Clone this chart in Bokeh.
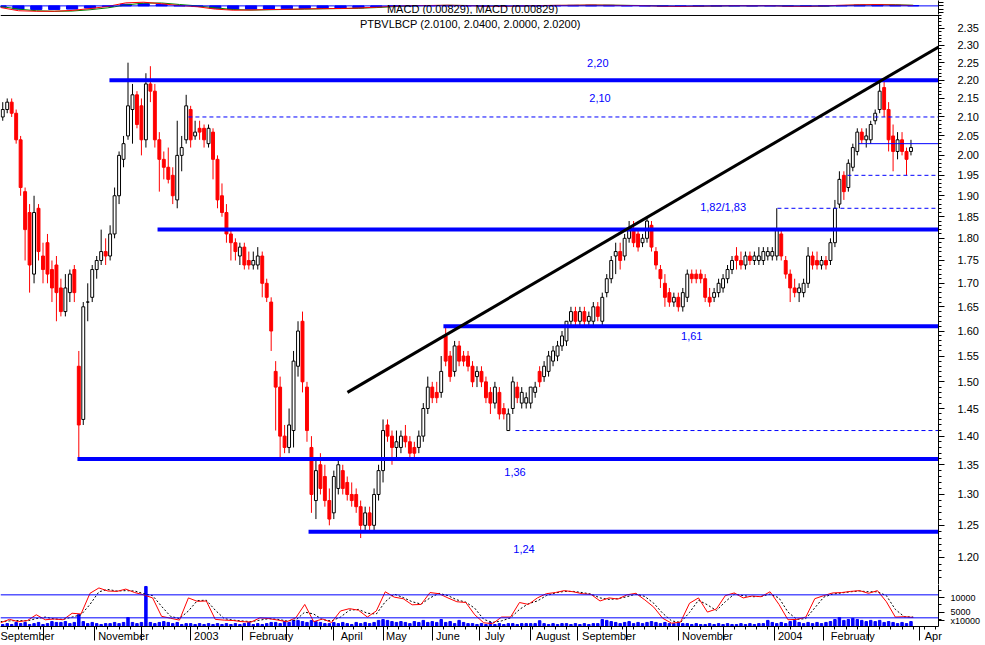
import numpy as np
import pandas as pd
from bokeh.plotting import figure
from bokeh.layouts import column
from bokeh.models import (Range1d, FixedTicker, PrintfTickFormatter, LinearAxis,
                          Span, Label, ColumnDataSource)
from bokeh.embed import file_html
from bokeh.resources import INLINE

# ---------------- data (2-trading-day candles, PTBVLBCP, Sep 2002 - Mar 2004) -------------
open_ = [2.10, 2.12, 2.14, 2.11, 2.04, 1.91, 1.86, 1.72, 1.87, 1.76,
         1.79, 1.73, 1.74, 1.69, 1.64, 1.68, 1.73, 1.53, 1.43, 1.66,
         1.67, 1.73, 1.75, 1.77, 1.76, 1.81, 1.90, 1.99, 2.05, 2.12,
         2.16, 2.13, 2.04, 2.19, 2.17, 2.04, 1.99, 1.97, 1.95, 1.89,
         2.00, 2.04, 2.12, 2.05, 2.07, 2.07, 2.03, 2.06, 1.99, 1.90,
         1.86, 1.81, 1.79, 1.76, 1.78, 1.75, 1.74, 1.74, 1.76, 1.70,
         1.66, 1.52, 1.49, 1.40, 1.38, 1.41, 1.53, 1.62, 1.49, 1.38,
         1.29, 1.35, 1.33, 1.29, 1.27, 1.31, 1.34, 1.32, 1.30, 1.30,
         1.28, 1.25, 1.27, 1.25, 1.30, 1.34, 1.42, 1.40, 1.38, 1.38,
         1.40, 1.39, 1.38, 1.38, 1.40, 1.45, 1.49, 1.48, 1.48, 1.59,
         1.55, 1.52, 1.57, 1.55, 1.55, 1.53, 1.51, 1.52, 1.50, 1.48,
         1.46, 1.48, 1.45, 1.41, 1.45, 1.49, 1.46, 1.46, 1.46, 1.48,
         1.52, 1.51, 1.52, 1.54, 1.55, 1.57, 1.58, 1.62, 1.64, 1.62,
         1.64, 1.62, 1.62, 1.65, 1.62, 1.68, 1.71, 1.76, 1.77, 1.76,
         1.80, 1.82, 1.81, 1.79, 1.80, 1.83, 1.77, 1.73, 1.70, 1.68,
         1.66, 1.67, 1.65, 1.67, 1.72, 1.72, 1.72, 1.71, 1.67, 1.67,
         1.68, 1.69, 1.71, 1.73, 1.76, 1.75, 1.74, 1.76, 1.75, 1.75,
         1.75, 1.76, 1.76, 1.76, 1.81, 1.75, 1.72, 1.69, 1.68, 1.68,
         1.70, 1.76, 1.75, 1.74, 1.75, 1.75, 1.79, 1.88, 1.95, 1.92,
         1.97, 2.01, 2.06, 2.04, 2.04, 2.09, 2.12, 2.18, 2.12, 2.05,
         2.01, 2.04, 2.01, 2.01]
high = [2.14, 2.15, 2.15, 2.12, 2.05, 1.92, 1.88, 1.90, 1.88, 1.79,
        1.81, 1.75, 1.76, 1.71, 1.72, 1.73, 1.74, 1.56, 1.66, 1.70,
        1.74, 1.76, 1.82, 1.80, 1.83, 1.92, 2.01, 2.05, 2.25, 2.19,
        2.17, 2.15, 2.22, 2.24, 2.19, 2.06, 2.01, 2.02, 1.97, 2.09,
        2.05, 2.16, 2.13, 2.09, 2.09, 2.08, 2.08, 2.07, 2.00, 1.93,
        1.88, 1.82, 1.80, 1.79, 1.79, 1.77, 1.77, 1.78, 1.77, 1.71,
        1.67, 1.54, 1.51, 1.42, 1.45, 1.56, 1.62, 1.64, 1.50, 1.40,
        1.36, 1.37, 1.35, 1.31, 1.34, 1.36, 1.35, 1.33, 1.32, 1.31,
        1.29, 1.28, 1.28, 1.31, 1.35, 1.43, 1.43, 1.41, 1.41, 1.41,
        1.42, 1.40, 1.39, 1.41, 1.46, 1.51, 1.50, 1.50, 1.55, 1.61,
        1.56, 1.58, 1.58, 1.56, 1.56, 1.54, 1.53, 1.53, 1.51, 1.49,
        1.50, 1.49, 1.46, 1.45, 1.51, 1.50, 1.49, 1.48, 1.49, 1.50,
        1.53, 1.54, 1.56, 1.57, 1.58, 1.60, 1.62, 1.65, 1.65, 1.65,
        1.65, 1.64, 1.66, 1.66, 1.68, 1.72, 1.76, 1.79, 1.79, 1.81,
        1.84, 1.84, 1.82, 1.81, 1.85, 1.84, 1.78, 1.74, 1.72, 1.69,
        1.68, 1.68, 1.69, 1.73, 1.73, 1.73, 1.73, 1.72, 1.69, 1.69,
        1.71, 1.72, 1.74, 1.76, 1.78, 1.77, 1.77, 1.77, 1.77, 1.78,
        1.78, 1.78, 1.78, 1.87, 1.82, 1.76, 1.73, 1.71, 1.70, 1.71,
        1.78, 1.77, 1.77, 1.76, 1.76, 1.80, 1.89, 1.96, 1.96, 1.99,
        2.03, 2.07, 2.07, 2.07, 2.09, 2.12, 2.20, 2.20, 2.14, 2.08,
        2.06, 2.06, 2.02, 2.04]
low = [2.09, 2.11, 2.10, 2.03, 1.90, 1.75, 1.68, 1.70, 1.75, 1.70,
       1.70, 1.66, 1.62, 1.63, 1.63, 1.66, 1.66, 1.36, 1.42, 1.62,
       1.66, 1.71, 1.74, 1.74, 1.75, 1.80, 1.88, 1.97, 2.04, 2.03,
       2.07, 2.00, 2.02, 2.14, 2.02, 1.91, 1.94, 1.93, 1.88, 1.87,
       1.96, 2.03, 2.02, 2.04, 2.04, 2.02, 2.02, 1.94, 1.87, 1.85,
       1.79, 1.75, 1.75, 1.74, 1.73, 1.73, 1.73, 1.73, 1.67, 1.66,
       1.56, 1.41, 1.36, 1.37, 1.37, 1.38, 1.51, 1.48, 1.39, 1.27,
       1.26, 1.30, 1.28, 1.25, 1.26, 1.30, 1.30, 1.29, 1.28, 1.27,
       1.23, 1.24, 1.24, 1.24, 1.29, 1.32, 1.39, 1.35, 1.36, 1.37,
       1.38, 1.36, 1.36, 1.37, 1.39, 1.44, 1.46, 1.46, 1.47, 1.53,
       1.50, 1.51, 1.53, 1.53, 1.52, 1.49, 1.49, 1.49, 1.46, 1.44,
       1.45, 1.43, 1.43, 1.41, 1.44, 1.46, 1.45, 1.45, 1.45, 1.47,
       1.49, 1.50, 1.51, 1.53, 1.54, 1.56, 1.57, 1.61, 1.61, 1.61,
       1.61, 1.61, 1.61, 1.62, 1.61, 1.67, 1.70, 1.72, 1.73, 1.75,
       1.79, 1.78, 1.77, 1.78, 1.79, 1.77, 1.73, 1.69, 1.65, 1.65,
       1.65, 1.64, 1.64, 1.66, 1.70, 1.70, 1.70, 1.66, 1.65, 1.66,
       1.67, 1.68, 1.70, 1.72, 1.73, 1.73, 1.73, 1.74, 1.74, 1.74,
       1.74, 1.75, 1.75, 1.75, 1.75, 1.71, 1.66, 1.67, 1.66, 1.67,
       1.69, 1.73, 1.73, 1.73, 1.73, 1.74, 1.78, 1.87, 1.89, 1.91,
       1.96, 2.00, 2.03, 2.02, 2.03, 2.08, 2.11, 2.10, 2.01, 1.96,
       1.99, 2.00, 1.95, 2.00]
close = [2.12, 2.14, 2.11, 2.04, 1.92, 1.82, 1.74, 1.86, 1.77, 1.73,
         1.72, 1.69, 1.68, 1.64, 1.69, 1.72, 1.68, 1.42, 1.65, 1.66,
         1.73, 1.75, 1.77, 1.76, 1.81, 1.90, 2.00, 2.03, 2.13, 2.16,
         2.08, 2.04, 2.19, 2.17, 2.04, 1.99, 1.97, 1.94, 1.90, 2.00,
         2.02, 2.13, 2.04, 2.06, 2.06, 2.04, 2.07, 1.99, 1.89, 1.86,
         1.81, 1.79, 1.77, 1.78, 1.74, 1.74, 1.75, 1.76, 1.70, 1.67,
         1.60, 1.49, 1.40, 1.38, 1.42, 1.54, 1.60, 1.50, 1.41, 1.30,
         1.34, 1.31, 1.29, 1.26, 1.33, 1.35, 1.31, 1.30, 1.29, 1.28,
         1.25, 1.27, 1.25, 1.30, 1.34, 1.41, 1.40, 1.38, 1.39, 1.40,
         1.39, 1.37, 1.37, 1.40, 1.45, 1.49, 1.47, 1.47, 1.52, 1.54,
         1.51, 1.57, 1.54, 1.54, 1.53, 1.50, 1.52, 1.50, 1.47, 1.46,
         1.49, 1.44, 1.44, 1.44, 1.50, 1.47, 1.48, 1.47, 1.49, 1.49,
         1.50, 1.53, 1.55, 1.56, 1.57, 1.59, 1.62, 1.64, 1.62, 1.64,
         1.62, 1.63, 1.65, 1.63, 1.67, 1.71, 1.75, 1.77, 1.75, 1.80,
         1.82, 1.79, 1.78, 1.80, 1.84, 1.78, 1.74, 1.71, 1.67, 1.66,
         1.67, 1.65, 1.68, 1.72, 1.71, 1.71, 1.71, 1.67, 1.66, 1.68,
         1.70, 1.71, 1.73, 1.75, 1.75, 1.74, 1.76, 1.75, 1.76, 1.76,
         1.77, 1.77, 1.77, 1.82, 1.76, 1.72, 1.69, 1.68, 1.69, 1.70,
         1.76, 1.74, 1.74, 1.75, 1.74, 1.79, 1.87, 1.94, 1.91, 1.98,
         2.02, 2.06, 2.04, 2.05, 2.08, 2.11, 2.17, 2.12, 2.04, 2.01,
         2.04, 2.01, 1.99, 2.02]
volume = [700, 1000, 700, 1400, 1000, 1400, 700, 1000, 1400, 700,
          1000, 1700, 1400, 1400, 1700, 1000, 1400, 4100, 1700, 1000,
          1400, 1000, 700, 1000, 1000, 1400, 1000, 1400, 3100, 1400,
          1000, 1400, 13800, 1400, 1000, 1400, 1700, 1400, 1000, 1400,
          700, 1000, 1000, 700, 1000, 700, 1000, 700, 1000, 700,
          1000, 700, 1000, 700, 1000, 1400, 700, 1000, 700, 1000,
          1400, 1400, 1000, 1700, 1400, 2100, 2100, 1700, 1400, 2100,
          1700, 1400, 1000, 1000, 1400, 1000, 1400, 1000, 700, 1400,
          1000, 1400, 1000, 1400, 2100, 2400, 2100, 1700, 1400, 1700,
          1400, 1000, 1700, 1400, 2100, 1400, 1700, 1400, 2400, 1400,
          1700, 1000, 2100, 1400, 1000, 1000, 700, 1000, 700, 1400,
          700, 1000, 700, 1000, 1000, 700, 1000, 1000, 1000, 1000,
          2000, 1000, 700, 1000, 700, 1000, 1000, 700, 1000, 700,
          1000, 700, 1000, 1000, 2400, 2100, 1700, 1400, 1000, 1400,
          1700, 1000, 1400, 1000, 1400, 1700, 1400, 1000, 1400, 1000,
          1000, 1400, 1000, 1000, 700, 1000, 700, 700, 1000, 700,
          1000, 700, 1000, 700, 700, 1000, 700, 1000, 700, 1000,
          1000, 2100, 1400, 1000, 1400, 1000, 1700, 2100, 1400, 1000,
          1400, 1000, 1400, 1000, 1400, 1700, 2400, 3100, 2100, 2400,
          2800, 2400, 2100, 1700, 2100, 1700, 2100, 1400, 1700, 1400,
          1000, 1400, 1000, 1700]

# stochastic, one value every 4 trading days
stoch_k = [7, 16, 10, 13, 28, 15, 17, 15, 32, 30,
           84, 98, 90, 89, 95, 86, 80, 72, 24, 19,
           14, 72, 63, 64, 16, 14, 13, 10, 9, 20,
           18, 14, 10, 20, 55, 10, 17, 8, 38, 44,
           40, 22, 38, 88, 74, 70, 54, 55, 86, 83,
           72, 62, 60, 28, 7, 5, 22, 22, 60, 55,
           72, 83, 86, 91, 88, 83, 81, 64, 72, 69,
           80, 84, 67, 48, 19, 6, 9, 58, 72, 35,
           43, 78, 85, 72, 77, 75, 88, 55, 15, 16,
           22, 70, 78, 85, 86, 89, 91, 84, 91, 62,
           22, 23, 21]
stoch_d = [10, 12, 13, 12, 18, 22, 17, 16, 22, 28,
           55, 88, 94, 90, 91, 90, 83, 78, 50, 24,
           18, 38, 65, 66, 40, 18, 14, 12, 10, 14,
           18, 16, 12, 14, 35, 30, 15, 12, 22, 40,
           42, 32, 30, 62, 82, 73, 62, 56, 72, 84,
           78, 67, 61, 45, 16, 8, 12, 20, 42, 57,
           64, 78, 85, 89, 89, 86, 82, 72, 68, 70,
           75, 82, 76, 58, 32, 12, 8, 34, 66, 54,
           39, 62, 82, 78, 75, 76, 82, 72, 35, 16,
           18, 46, 74, 82, 85, 88, 90, 88, 88, 78,
           42, 23, 22]

# MACD, one value every 8 trading days
macd_line = [-0.015, -0.045, -0.050, -0.050, -0.042, -0.025, -0.005, 0.028, 0.034, 0.020,
             0.003, -0.008, -0.030, -0.040, -0.038, -0.034, -0.032, -0.028, -0.026, -0.024,
             -0.020, -0.012, -0.002, 0.003, 0.004, 0.006, 0.003, -0.002, -0.004, 0.000,
             0.003, 0.005, 0.006, 0.008, 0.006, 0.004, 0.002, -0.003, -0.005, -0.002,
             0.000, 0.002, 0.001, 0.002, -0.003, -0.004, 0.000, 0.006, 0.010, 0.012,
             0.008, 0.004]
macd_signal = [-0.005, -0.030, -0.045, -0.050, -0.048, -0.036, -0.018, 0.008, 0.026, 0.027,
               0.013, 0.000, -0.018, -0.034, -0.039, -0.036, -0.033, -0.030, -0.027, -0.025,
               -0.022, -0.016, -0.007, 0.000, 0.003, 0.005, 0.004, 0.000, -0.003, -0.002,
               0.001, 0.004, 0.005, 0.007, 0.007, 0.005, 0.003, -0.001, -0.004, -0.003,
               -0.001, 0.001, 0.001, 0.002, -0.001, -0.003, -0.002, 0.003, 0.008, 0.011,
               0.010, 0.006]
macd_hist = [-0.012, -0.030, -0.033, -0.033, -0.030, -0.020, -0.005, 0.015, 0.020, 0.012,
             0.002, -0.006, -0.022, -0.030, -0.030, -0.028, -0.027, -0.025, -0.024, -0.022,
             -0.018, -0.010, -0.002, 0.002, 0.003, 0.004, 0.002, -0.002, -0.003, 0.000,
             0.002, 0.004, 0.005, 0.006, 0.005, 0.003, 0.002, -0.002, -0.004, -0.002,
             0.000, 0.002, 0.001, 0.002, -0.002, -0.003, 0.000, 0.004, 0.007, 0.009,
             0.006, 0.003]

# analyst lines (price level, trading day where the line begins)
support_levels = [2.20, 1.82, 1.61, 1.36, 1.24]
support_start = [48.7, 70.2, 198.0, 34.4, 137.7]
dashed_levels = [2.10, 1.87, 1.95, 1.41]
dashed_start = [84.0, 347.3, 378.6, 230.2]
last_level = [2.03]
last_start = [383.5]
trend_days = [155.1, 419.3]
trend_prices = [1.48, 2.295]
level_texts = ["2,20", "2,10", "1,82/1,83", "1,61", "1,36", "1,24"]
level_text_days = [267, 268, 323, 309, 230, 234]
level_text_prices = [2.248, 2.150, 1.873, 1.590, 1.338, 1.213]

price_ticks = [round(1.20 + 0.05 * i, 2) for i in range(24)]
price_minor = [round(1.16 + 0.01 * i, 2) for i in range(124)]
vol_ticks = [1900, 5000, 10000]
vol_tick_labels = ["x10000", "5000", "10000"]

axis_months = [(2002, 9), (2002, 11), (2003, 1), (2003, 2), (2003, 4), (2003, 5), (2003, 6),
               (2003, 7), (2003, 8), (2003, 9), (2003, 11), (2004, 1), (2004, 2), (2004, 4)]
axis_month_labels = ["September", "November", "2003", "February", "April", "May", "June",
                     "July", "August", "September", "November", "2004", "February", "Apr"]

TITLE = "PTBVLBCP (2.0100, 2.0400, 2.0000, 2.0200)"
MACD_TITLE = "MACD (0.00829), MACD (0.00829)"

# ---------------- layout constants ----------------
FONT = "Liberation Sans"
BLUE = "#0000ff"
RED = "#ff0000"
FW = 938
RB = 47
X_END = 419.3
PX_PER_DAY = FW / X_END

xr = Range1d(0, X_END)


def make_fig(fh, y_range, bottom=0, **kw):
    f = figure(frame_width=FW, frame_height=fh, x_range=xr, y_range=y_range,
               toolbar_location=None, output_backend="svg",
               min_border_left=0, min_border_right=RB, min_border_top=0,
               min_border_bottom=bottom, **kw)
    f.grid.visible = False
    f.outline_line_color = None
    f.background_fill_color = "white"
    f.border_fill_color = "white"
    return f


# ---------------- MACD strip ----------------
macd_day = np.arange(len(macd_line)) * 8
fm = make_fig(14, Range1d(-0.08, 0.05), x_axis_location=None, y_axis_location="right")
fm.vbar(x=macd_day, top=macd_hist, bottom=0, width=5, color=BLUE)
fm.add_layout(Span(location=0, dimension="width", line_color=BLUE, line_width=1))
fm.line(macd_day, macd_signal, color="#008000", line_width=1)
fm.line(macd_day, macd_line, color=RED, line_width=1)
fm.yaxis.ticker = FixedTicker(ticks=[-0.06, -0.03, 0.0, 0.03], minor_ticks=[])
fm.yaxis.major_label_text_font_size = "1px"
fm.yaxis.major_label_text_color = None
fm.yaxis.major_tick_out = 5
fm.yaxis.major_tick_in = 0
fm.yaxis.minor_tick_out = 0
fm.add_layout(Label(x=211, y=-0.08, text=MACD_TITLE, text_align="center", text_baseline="bottom",
                    text_font=FONT, text_font_size="11px", text_color="black"))

# ---------------- price panel ----------------
o = np.array(open_); h = np.array(high); l = np.array(low); c = np.array(close)
cx = 2 * np.arange(len(c)) + 1
up = c >= o
dn = ~up

fp = make_fig(570, Range1d(1.1595, 2.392), y_axis_type="log",
              x_axis_location=None, y_axis_location="right")

src_up = ColumnDataSource(dict(x=cx[up], o=o[up], h=h[up], l=l[up], c=c[up]))
src_dn = ColumnDataSource(dict(x=cx[dn], o=o[dn], h=h[dn], l=l[dn], c=c[dn]))

fp.segment(x0="x", y0="l", x1="x", y1="h", color="black", line_width=1, source=src_up)
fp.vbar(x="x", bottom="o", top="c", width=1.3, fill_color="white", line_color="black",
        line_width=1, source=src_up)
fp.segment(x0="x", y0="l", x1="x", y1="h", color=RED, line_width=1, source=src_dn)
fp.vbar(x="x", bottom="c", top="o", width=1.3, fill_color=RED, line_color=RED,
        line_width=1, source=src_dn)

fp.segment(x0=support_start, y0=support_levels, x1=[X_END] * len(support_levels),
           y1=support_levels, color=BLUE, line_width=4)
fp.segment(x0=dashed_start, y0=dashed_levels, x1=[X_END] * len(dashed_levels),
           y1=dashed_levels, color=BLUE, line_width=1, line_dash="4 3")
fp.segment(x0=last_start, y0=last_level, x1=[X_END], y1=last_level, color=BLUE, line_width=1)
fp.line(trend_days, trend_prices, color="black", line_width=3)

for t, d, pr in zip(level_texts, level_text_days, level_text_prices):
    fp.add_layout(Label(x=d, y=pr, text=t, text_align="center", text_baseline="middle",
                        text_font=FONT, text_font_size="11px", text_color=BLUE))

fp.add_layout(Label(x=210, y=2.3635, text=TITLE, text_align="center", text_baseline="middle",
                    text_font=FONT, text_font_size="11px", text_color="black"))
fp.add_layout(Span(location=2.389, dimension="width", line_color="black", line_width=1))

fp.yaxis.ticker = FixedTicker(ticks=price_ticks, minor_ticks=price_minor)
fp.yaxis.formatter = PrintfTickFormatter(format="%.2f")
fp.yaxis.major_tick_out = 6
fp.yaxis.major_tick_in = 0
fp.yaxis.minor_tick_out = 3
fp.yaxis.minor_tick_in = 0
fp.yaxis.major_label_standoff = 13
fp.yaxis.major_label_text_font = FONT
fp.yaxis.major_label_text_font_size = "11px"
fp.yaxis.major_label_text_color = "black"
fp.yaxis.axis_line_color = "black"

# ---------------- stochastic / volume panel ----------------
stoch_day = np.arange(len(stoch_k)) * 4
fl = make_fig(42, Range1d(-2.6, 107), bottom=19, x_axis_location="below", y_axis_location=None)
fl.extra_y_ranges = {"vol": Range1d(0, 14483)}
fl.vbar(x=cx, top=volume, bottom=0, width=1.1, color=BLUE, y_range_name="vol")
fl.add_layout(Span(location=80, dimension="width", line_color=BLUE, line_width=1))
fl.add_layout(Span(location=20, dimension="width", line_color=BLUE, line_width=1))
fl.line(stoch_day, stoch_d, color="black", line_width=1, line_dash="2 2")
fl.line(stoch_day, stoch_k, color=RED, line_width=1)

vax = LinearAxis(y_range_name="vol",
                 ticker=FixedTicker(ticks=vol_ticks, minor_ticks=[2500, 7500, 12500]),
                 major_label_overrides=dict(zip(vol_ticks, vol_tick_labels)),
                 major_tick_out=6, major_tick_in=0, minor_tick_out=3, minor_tick_in=0,
                 major_label_standoff=6, major_label_text_font=FONT,
                 major_label_text_font_size="9px", major_label_text_color="black",
                 axis_line_color="black")
fl.add_layout(vax, "right")

# time axis: weekly ticks + tall month-start ticks, month names after each month start
dates = pd.bdate_range("2002-09-02", "2004-04-30")
day = np.arange(len(dates)) - 2
is_ms = np.r_[True, np.asarray(dates.month[1:]) != np.asarray(dates.month[:-1])]
month_start_days = [int(v) for v in day[is_ms]]
monday_days = [int(v) for v in day[np.asarray(dates.dayofweek) == 0]]
ms_lookup = {(d.year, d.month): int(i) for d, i in zip(dates[is_ms], day[is_ms])}

label_pos = []
for (yy, mm), txt in zip(axis_months, axis_month_labels):
    ms = ms_lookup[(yy, mm)]
    label_pos.append(int(round(ms + (len(txt) * 6.4 / 2 + 3) / PX_PER_DAY)))

ax1 = fl.xaxis[0]
ax1.ticker = FixedTicker(ticks=monday_days, minor_ticks=month_start_days)
ax1.major_label_text_font_size = "1px"
ax1.major_label_text_color = None
ax1.major_label_standoff = 0
ax1.major_tick_out = 3
ax1.major_tick_in = 0
ax1.minor_tick_out = 14
ax1.minor_tick_in = 0
ax1.axis_line_color = "black"

ax2 = LinearAxis(ticker=FixedTicker(ticks=label_pos, minor_ticks=[]),
                 major_label_overrides=dict(zip(label_pos, axis_month_labels)),
                 major_tick_out=0, major_tick_in=0, minor_tick_out=0, minor_tick_in=0,
                 axis_line_color=None, major_label_standoff=-11,
                 major_label_text_font=FONT, major_label_text_font_size="11px",
                 major_label_text_color="black")
fl.add_layout(ax2, "below")

layout = column(fm, fp, fl, spacing=0)
open("out.html", "w").write(file_html(layout, INLINE))
